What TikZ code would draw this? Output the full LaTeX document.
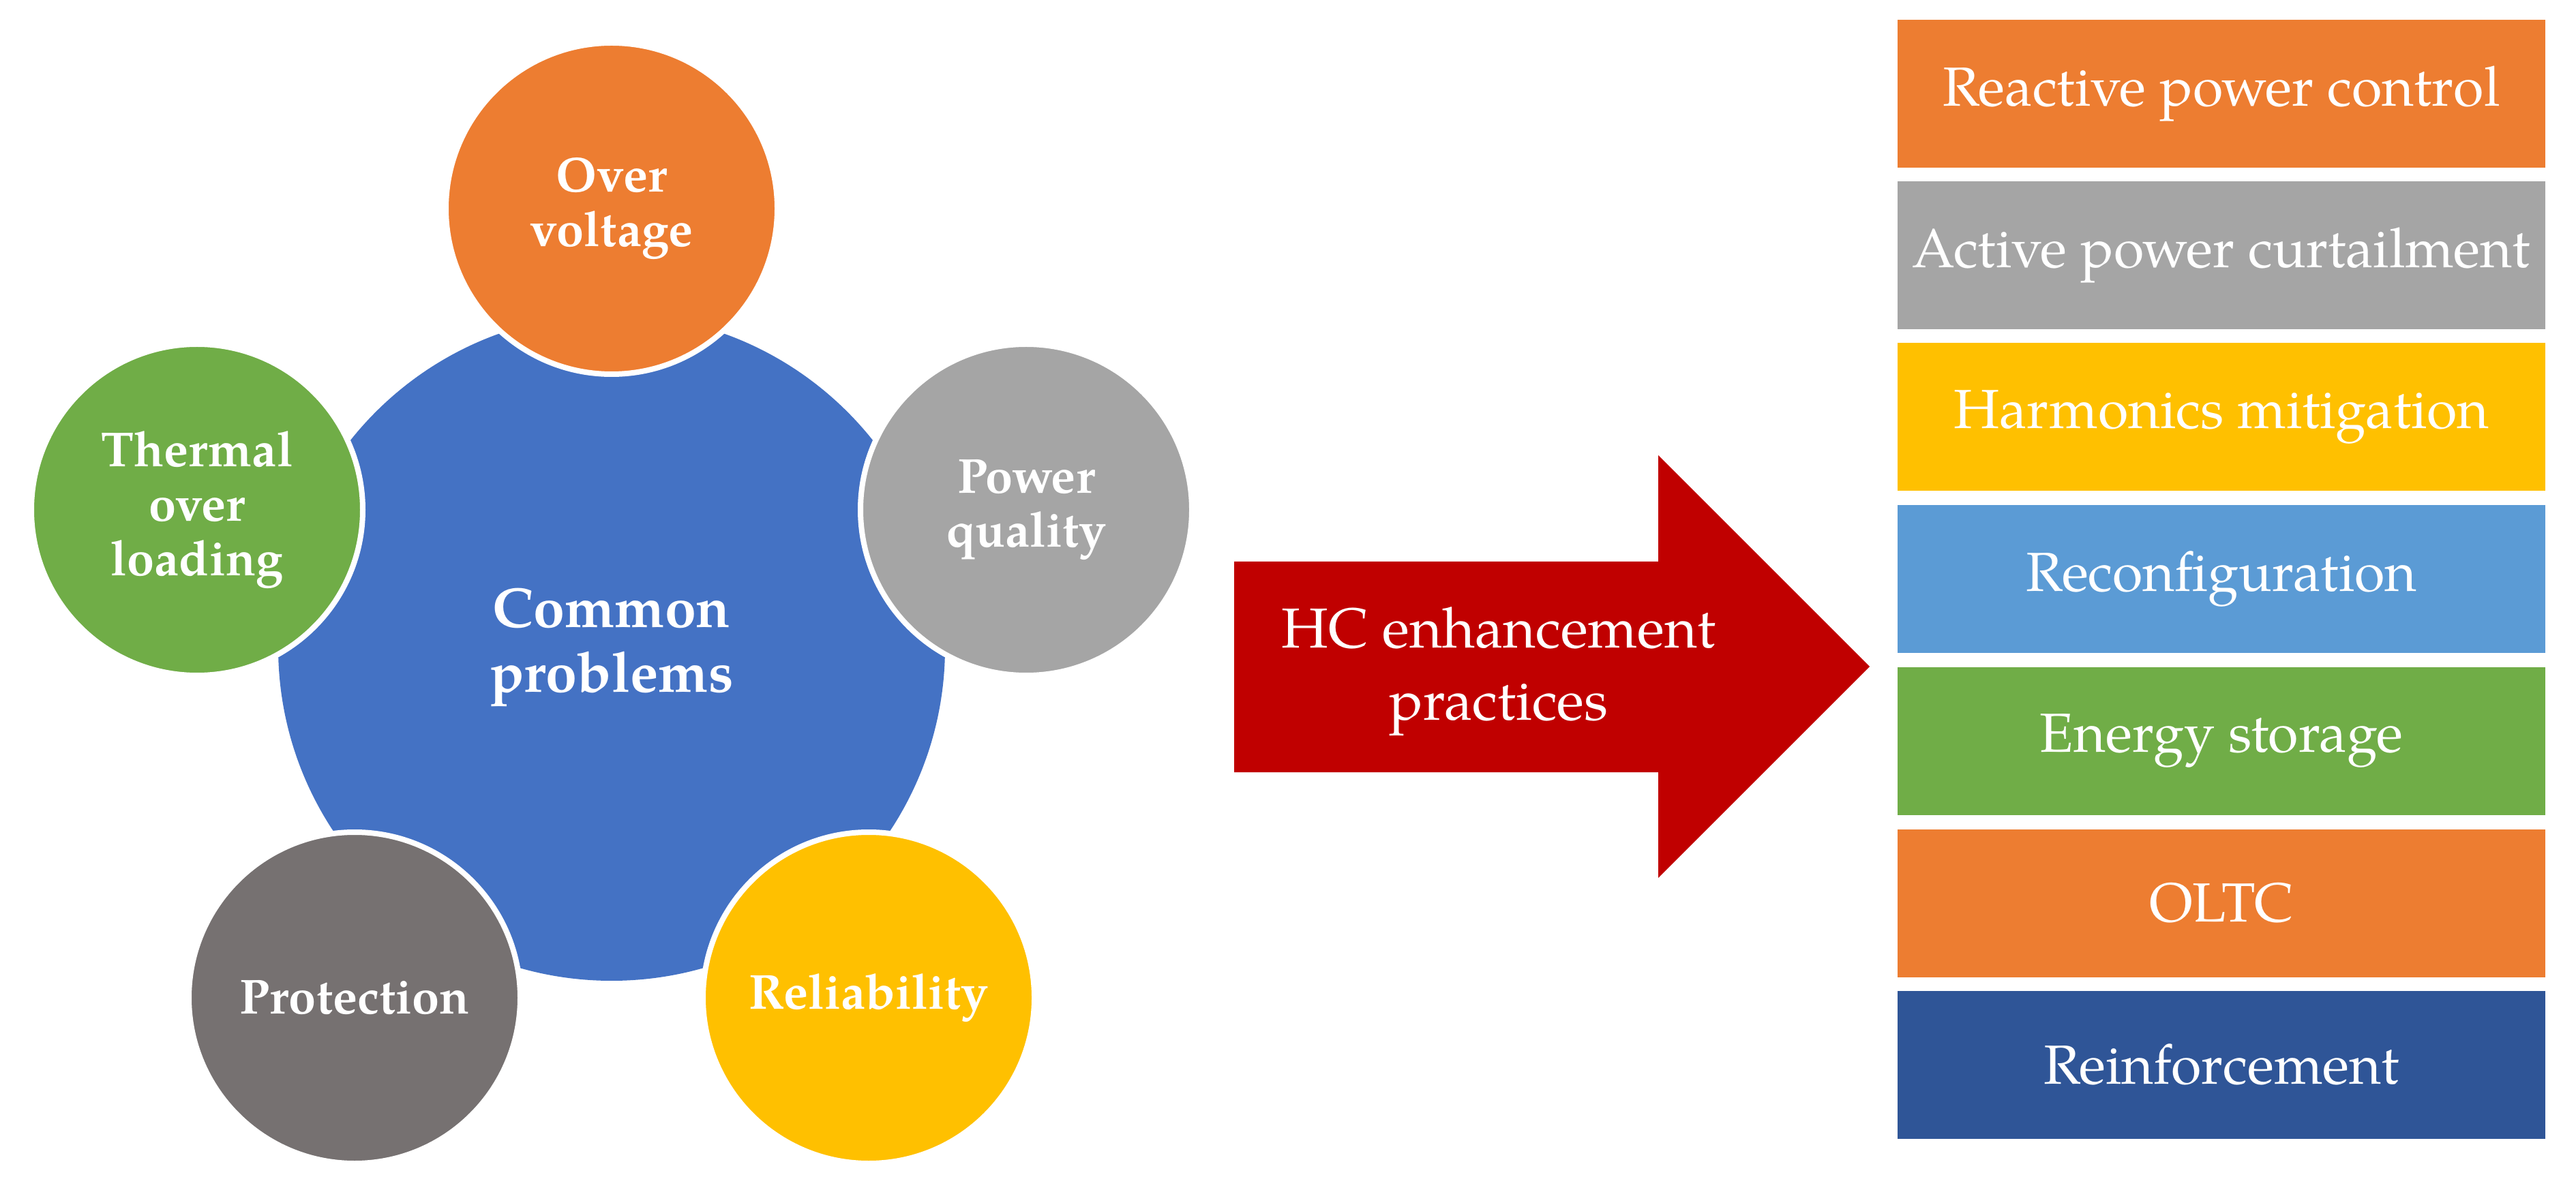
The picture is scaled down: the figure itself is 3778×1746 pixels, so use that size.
\documentclass[tikz,border=0pt]{standalone}
\usepackage{fontspec}
\setmainfont{texgyrepagella}[Extension=.otf,UprightFont=*-regular,BoldFont=*-bold]
\definecolor{ovorange}{HTML}{ED7D31}
\definecolor{cpblue}{HTML}{4472C4}
\definecolor{pqgray}{HTML}{A5A5A5}
\definecolor{relgold}{HTML}{FFC000}
\definecolor{thgreen}{HTML}{70AD47}
\definecolor{protgray}{HTML}{767171}
\definecolor{recblue}{HTML}{5B9BD5}
\definecolor{reinblue}{HTML}{2F5597}
\definecolor{hcred}{HTML}{C00000}

\begin{document}
\begin{tikzpicture}[x=0.1mm,y=0.1mm,yscale=-1,
	bigcirc/.style={circle,fill=cpblue,minimum size=97.8mm,inner sep=0pt,text=white,align=center,font=\bfseries\fontsize{23.5}{27}\selectfont},
	smallcirc/.style={circle,draw=white,line width=0.8mm,minimum size=48.6mm,inner sep=0pt,text=white,align=center,font=\bfseries\fontsize{20.5}{22.7}\selectfont},
	fixbox/.style={rectangle,minimum width=95mm,minimum height=21.7mm,inner sep=0pt,text=white,font=\fontsize{23}{27}\selectfont}]
	\useasboundingbox (0,0) rectangle (3778,1746);
	% problems
	\draw (897,950) node (common) [bigcirc] {Common\\problems};
	\draw (897,306) node (over) [smallcirc,fill=ovorange] {Over\\voltage};
	\draw (289,748) node (thermal) [smallcirc,fill=thgreen] {Thermal\\over\\loading};
	\draw (1505,748) node (pq) [smallcirc,fill=pqgray] {Power\\quality};
	\draw (520,1464) node (protect) [smallcirc,fill=protgray] {Protection};
	\draw (1274,1464) node (reliab) [smallcirc,fill=relgold] {Reliability};
	% arrow
	\fill[hcred] (1810,824) -- (2432,824) -- (2432,668) -- (2742,978) -- (2432,1288) -- (2432,1133) -- (1810,1133) -- cycle;
	\draw (2198,985) node (hc) [text=white,align=center,font=\fontsize{23.5}{30}\selectfont] {HC enhancement\\practices};
	% practices
	\draw (3258,138) node (rpc) [fixbox,fill=ovorange] {Reactive power control};
	\draw (3258,375) node (apc) [fixbox,fill=pqgray] {Active power curtailment};
	\draw (3258,612) node (harm) [fixbox,fill=relgold] {Harmonics mitigation};
	\draw (3258,850) node (reconf) [fixbox,fill=recblue] {Reconfiguration};
	\draw (3258,1087) node (storage) [fixbox,fill=thgreen] {Energy storage};
	\draw (3258,1325) node (oltc) [fixbox,fill=ovorange] {OLTC};
	\draw (3258,1562) node (reinf) [fixbox,fill=reinblue] {Reinforcement};
\end{tikzpicture}
\end{document}
